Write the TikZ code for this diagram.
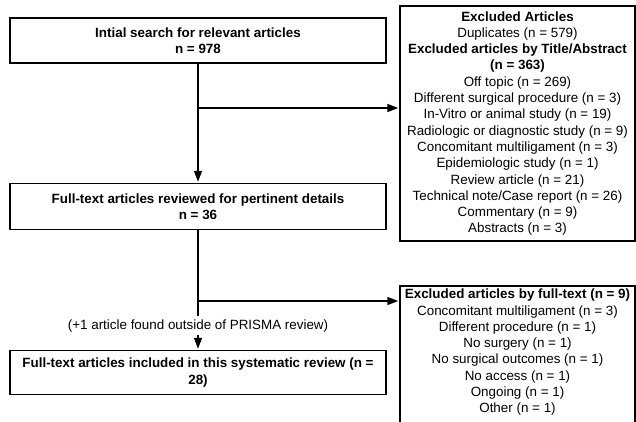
\documentclass[tikz,border=0pt]{standalone}
\usepackage{fontspec}
\setmainfont{Liberation Sans}
\usetikzlibrary{arrows.meta}

\begin{document}
\begin{tikzpicture}[x=1pt,y=-1pt,>={Triangle[length=11pt,width=8pt]},shorten >=1pt,
                    node distance=166pt,line width=1.5pt,
                    every node/.style={font=\fontsize{13.4}{16.3}\selectfont},
                    main node/.style={rectangle,draw,align=center,minimum width=376pt,
                                      font=\fontsize{13.4}{16.3}\selectfont\bfseries},
                    side node/.style={rectangle,draw,align=center,minimum width=235pt}]
  \useasboundingbox (0,0) rectangle (636,422);
  \clip (0,0) rectangle (636,422);
  \node[main node,minimum height=45pt] (1) at (198,40.5) {Intial search for relevant articles\\n = 978};
  \node[main node,minimum height=46pt] (2) [below of=1] {Full-text articles reviewed for pertinent details\\n = 36};
  \node[main node,minimum height=44pt] (3) [below of=2] {Full-text articles included in this systematic review (n =\\28)};
  \node[side node,minimum height=235pt] (4) at (517.5,123.5) {\textbf{Excluded Articles}\\
    Duplicates (n = 579)\\
    \textbf{Excluded articles by Title/Abstract}\\
    \textbf{(n = 363)}\\
    Off topic (n = 269)\\
    Different surgical procedure (n = 3)\\
    In-Vitro or animal study (n = 19)\\
    Radiologic or diagnostic study (n = 9)\\
    Concomitant multiligament (n = 3)\\
    Epidemiologic study (n = 1)\\
    Review article (n = 21)\\
    Technical note/Case report (n = 26)\\
    Commentary (n = 9)\\
    Abstracts (n = 3)};
  \node[side node,anchor=north,text depth=150pt] (5) at (517.5,285) {\textbf{Excluded articles by full-text (n = 9)}\\
    Concomitant multiligament (n = 3)\\
    Different procedure (n = 1)\\
    No surgery (n = 1)\\
    No surgical outcomes (n = 1)\\
    No access (n = 1)\\
    Ongoing (n = 1)\\
    Other (n = 1)};
  \node[fill=white,inner sep=2pt] (lbl) at (198,326) {(+1 article found outside of PRISMA review)};
  \coordinate (a) at (198,108);
  \coordinate (b) at (198,301);
  \path[->] (1) edge (2)
            (a) edge (a -| 4.west)
            (b) edge (b -| 5.west)
            (lbl) edge (3);
  \path (2) edge (lbl);
\end{tikzpicture}
\end{document}
